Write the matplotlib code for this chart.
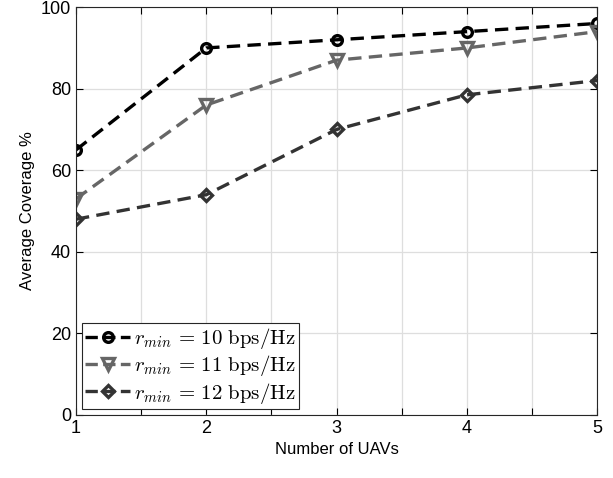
import matplotlib
matplotlib.use('Agg')
import matplotlib.pyplot as plt
from matplotlib.lines import Line2D

plt.rcParams['font.family'] = ['Liberation Sans', 'DejaVu Sans']
plt.rcParams['mathtext.fontset'] = 'cm'

num_uavs = [1, 2, 3, 4, 5]
cov_10 = [65, 90, 92, 94, 96]
cov_11 = [53, 76, 87, 90, 94]
cov_12 = [48, 54, 70, 78.5, 82]
labels = [r'$r_{min}\,=\,10\ \mathrm{bps/Hz}$',
          r'$r_{min}\,=\,11\ \mathrm{bps/Hz}$',
          r'$r_{min}\,=\,12\ \mathrm{bps/Hz}$']
x_ticks = [1, 1.5, 2, 2.5, 3, 3.5, 4, 4.5, 5]
x_ticklabels = ['1', '', '2', '', '3', '', '4', '', '5']

colors = ['black', '#666666', '#333333']
markers = ['o', 'v', 'D']
sizes = [7, 8.5, 6.5]

fig = plt.figure(figsize=(6.13, 4.78), dpi=100)
ax = fig.add_axes([0.124, 0.132, 0.850, 0.853])

style = dict(ls='--', lw=2.4, mfc='none', mew=2.4)
for ys, c, m, s in zip([cov_10, cov_11, cov_12], colors, markers, sizes):
    ax.plot(num_uavs, ys, color=c, marker=m, ms=s, dashes=(4, 2.2), **style)

ax.set_xlim(1, 5)
ax.set_ylim(0, 100)
ax.set_xticks(x_ticks)
ax.set_xticklabels(x_ticklabels)
ax.set_yticks(range(0, 101, 20))
ax.grid(True, color='#dedede', lw=0.9)
ax.set_axisbelow(True)
ax.tick_params(direction='in', top=True, right=True, labelsize=13, length=5)
for sp in ax.spines.values():
    sp.set_linewidth(0.8)
    sp.set_color('#262626')

ax.set_xlabel('Number of UAVs', fontsize=12)
ax.set_ylabel('Average Coverage %', fontsize=12)

# legend handles: short dash, marker, short dash
handles = [Line2D([], [], color=c, marker=m, ms=s, dashes=(2.9, 7.5), **style)
           for c, m, s in zip(colors, markers, sizes)]
leg = ax.legend(handles, labels, loc='lower left', fontsize=15, fancybox=False,
                framealpha=1, edgecolor='#262626', borderaxespad=0.3,
                handlelength=2.15, handletextpad=0.2, labelspacing=0.1,
                borderpad=0.15)
leg.get_frame().set_linewidth(0.8)

fig.savefig('out.png', dpi=100)
